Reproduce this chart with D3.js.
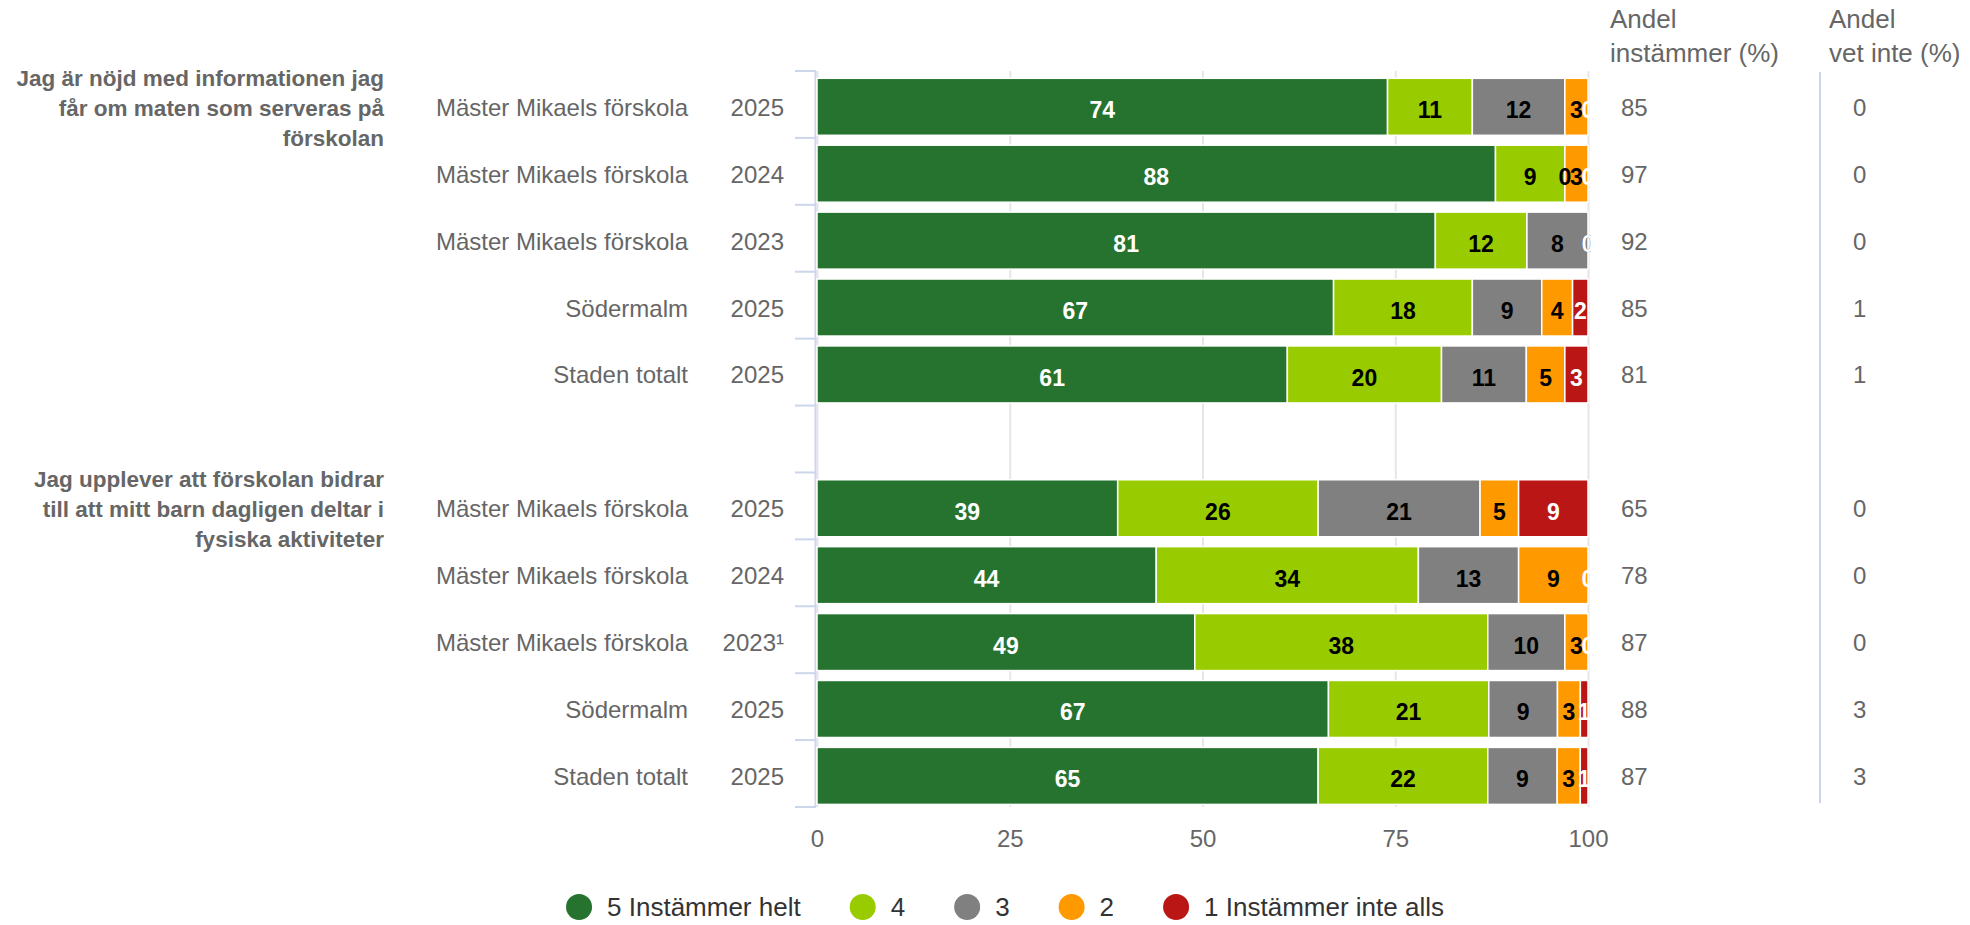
<!DOCTYPE html>
<html>
<head>
<meta charset="utf-8">
<script src="https://cdn.jsdelivr.net/npm/d3@7"></script>
<style>
	body { margin: 0; background: #ffffff; }
	svg { display: block; font-family: 'Liberation Sans', Arial, sans-serif; }
</style>
</head>
<body>
<div id="chart"></div>
<script>
// ********** STACKED BAR CHART - ENKÄT FÖRSKOLA **********

// Question texts (already broken into lines as in the original)
const questions = [
	['Jag är nöjd med informationen jag', 'får om maten som serveras på', 'förskolan'],
	['Jag upplever att förskolan bidrar', 'till att mitt barn dagligen deltar i', 'fysiska aktiviteter']
];

// Row labels for each question
const units = ['Mäster Mikaels förskola', 'Mäster Mikaels förskola', 'Mäster Mikaels förskola', 'Södermalm', 'Staden totalt'];
const years = [
	['2025', '2024', '2023', '2025', '2025'],
	['2025', '2024', '2023¹', '2025', '2025']
];

// Series names (legend) - 5 down to 1
const seriesNames = ['5 Instämmer helt', '4', '3', '2', '1 Instämmer inte alls'];

// Series values, question 1 rows then question 2 rows
const series5 = [74, 88, 81, 67, 61, 39, 44, 49, 67, 65];
const series4 = [11, 9, 12, 18, 20, 26, 34, 38, 21, 22];
const series3 = [12, 0, 8, 9, 11, 21, 13, 10, 9, 9];
const series2 = [3, 3, 0, 4, 5, 5, 9, 3, 3, 3];
const series1 = [0, 0, 0, 2, 3, 9, 0, 0, 1, 1];

// Side columns
const andelInstammer = [85, 97, 92, 85, 81, 65, 78, 87, 88, 87];
const andelVetInte = [0, 0, 0, 1, 1, 0, 0, 0, 3, 3];

// X axis ticks
const xTicks = [0, 25, 50, 75, 100];

// Set colour function
const colors = (idx) => {
	const colorRange = ['#267330', '#99cc00', '#808080', '#ff9900', '#bb1616'];
	return colorRange[idx];
}
// Label colour: white on the dark segments, black on the rest
const labelColor = (idx) => (idx === 0 || idx === 4) ? '#ffffff' : '#000000';

const width = 1970;
const height = 925;

// Plot area
const plot = {
	left: 817,
	right: 1588,
	top: 71,
	bottom: 807
};

const textGrey = '#666666';
const axisColor = '#ccd6eb';
const gridColor = '#e6e6e6';

// Build rows (with one empty row between the two questions)
const allSeries = [series5, series4, series3, series2, series1];
let rows = [];
questions.forEach((q, qi) => {
	if (qi > 0) rows.push({ id: 'gap', gap: true });
	units.forEach((u, ui) => {
		const idx = qi * units.length + ui;
		const row = {
			id: `q${qi}-${ui}`,
			question: qi,
			first: ui === 0,
			unit: u,
			year: years[qi][ui],
			instammer: andelInstammer[idx],
			vetInte: andelVetInte[idx]
		};
		allSeries.forEach((s, si) => row[si] = s[idx]);
		rows.push(row);
	});
});
const dataRows = rows.filter(r => !r.gap);

// Scales
const x = d3.scaleLinear()
	.domain([0, 1])
	.range([plot.left, plot.right]);

const y = d3.scaleBand()
	.domain(rows.map(r => r.id))
	.range([plot.top, plot.bottom]);

const barOffset = 7.3;
const barHeight = 57;
const barCenter = (id) => y(id) + barOffset + barHeight / 2;

// Create SVG
const svg = d3.select('#chart')
	.append('svg')
	.attr('width', width)
	.attr('height', height);

svg.append('rect')
	.attr('width', width)
	.attr('height', height)
	.attr('fill', '#ffffff');

// Gridlines
const grid = svg.append('g')
	.attr('class', 'grid')
	.attr('transform', `translate(0, ${plot.bottom})`)
	.call(d3.axisBottom(x)
		.tickValues(xTicks.map(d => d / 100))
		.tickSize(-(plot.bottom - plot.top))
		.tickFormat(''));
grid.select('.domain').remove();
grid.selectAll('line')
	.attr('stroke', gridColor)
	.attr('stroke-width', 2);

// X axis labels
const xAxis = svg.append('g')
	.attr('class', 'x-axis')
	.attr('transform', `translate(0, ${plot.bottom})`)
	.call(d3.axisBottom(x)
		.tickValues(xTicks.map(d => d / 100))
		.tickSize(0)
		.tickPadding(0)
		.tickFormat(d => Math.round(d * 100)));
xAxis.select('.domain').remove();
xAxis.selectAll('text')
	.attr('y', 40)
	.attr('dy', 0)
	.attr('fill', textGrey)
	.attr('font-size', '24px')
	.attr('font-family', "'Liberation Sans', Arial, sans-serif");

// Left axis line with ticks between categories
const yAxis = svg.append('g').attr('class', 'y-axis');
yAxis.append('line')
	.attr('x1', plot.left - 1.5)
	.attr('x2', plot.left - 1.5)
	.attr('y1', plot.top)
	.attr('y2', plot.bottom)
	.attr('stroke', axisColor)
	.attr('stroke-width', 2);
const boundaries = rows.map(r => y(r.id)).concat([plot.bottom]);
yAxis.selectAll('line.tick')
	.data(boundaries)
	.enter()
	.append('line')
	.attr('class', 'tick')
	.attr('x1', plot.left - 22)
	.attr('x2', plot.left - 1)
	.attr('y1', d => d)
	.attr('y2', d => d)
	.attr('stroke', axisColor)
	.attr('stroke-width', 2);

// Stack data (normalised to 100 %)
const stack = d3.stack()
	.keys([0, 1, 2, 3, 4])
	.offset(d3.stackOffsetExpand);
const stacked = stack(dataRows);

// Bars
const barsGroup = svg.append('g').attr('class', 'bars');
barsGroup.selectAll('g.series')
	.data(stacked)
	.enter()
	.append('g')
	.attr('class', 'series')
	.attr('fill', (d, i) => colors(i))
	.selectAll('rect')
	.data(d => d)
	.enter()
	.append('rect')
	.attr('x', d => x(d[0]))
	.attr('y', d => y(d.data.id) + barOffset)
	.attr('width', d => Math.max(0, x(d[1]) - x(d[0])))
	.attr('height', barHeight)
	.attr('stroke', '#ffffff')
	.attr('stroke-width', 1.5);

// Data labels (clipped to plot area)
svg.append('clipPath')
	.attr('id', 'plot-clip')
	.append('rect')
	.attr('x', plot.left)
	.attr('y', 0)
	.attr('width', plot.right - plot.left + 3)
	.attr('height', height);

const labelsGroup = svg.append('g')
	.attr('class', 'labels')
	.attr('clip-path', 'url(#plot-clip)');
stacked.forEach((s, si) => {
	labelsGroup.selectAll(`text.label-${si}`)
		.data(s)
		.enter()
		.append('text')
		.attr('class', `label-${si}`)
		.attr('x', d => (x(d[0]) + x(d[1])) / 2)
		.attr('y', d => barCenter(d.data.id))
		.attr('dy', '0.5em')
		.attr('text-anchor', 'middle')
		.attr('font-size', '23px')
		.attr('font-weight', 'bold')
		.attr('fill', labelColor(si))
		.text(d => d.data[si]);
});

// Category labels (unit + year)
const catGroup = svg.append('g').attr('class', 'categories');
catGroup.selectAll('text.unit')
	.data(dataRows)
	.enter()
	.append('text')
	.attr('class', 'unit')
	.attr('x', 688)
	.attr('y', d => barCenter(d.id) + 9)
	.attr('text-anchor', 'end')
	.attr('font-size', '24px')
	.attr('fill', textGrey)
	.text(d => d.unit);

catGroup.selectAll('text.year')
	.data(dataRows)
	.enter()
	.append('text')
	.attr('class', 'year')
	.attr('x', 784)
	.attr('y', d => barCenter(d.id) + 9)
	.attr('text-anchor', 'end')
	.attr('font-size', '24px')
	.attr('fill', textGrey)
	.text(d => d.year);

// Question labels (bold, right aligned, middle line on first row)
const qGroup = svg.append('g').attr('class', 'questions');
dataRows.filter(r => r.first).forEach(r => {
	const text = qGroup.append('text')
		.attr('text-anchor', 'end')
		.attr('font-size', '22.5px')
		.attr('font-weight', 'bold')
		.attr('fill', textGrey);
	questions[r.question].forEach((line, li) => {
		text.append('tspan')
			.attr('x', 384)
			.attr('y', barCenter(r.id) + 9 + (li - 1) * 30)
			.text(line);
	});
});

// Side columns
const side = svg.append('g').attr('class', 'side-columns');
const headers = [
	{ x: 1610, lines: ['Andel', 'instämmer (%)'] },
	{ x: 1829, lines: ['Andel', 'vet inte (%)'] }
];
headers.forEach(h => {
	const t = side.append('text')
		.attr('font-size', '26px')
		.attr('fill', textGrey);
	h.lines.forEach((line, li) => {
		t.append('tspan')
			.attr('x', h.x)
			.attr('y', 28 + li * 34)
			.text(line);
	});
});

side.append('line')
	.attr('x1', 1820)
	.attr('x2', 1820)
	.attr('y1', 72)
	.attr('y2', 803)
	.attr('stroke', axisColor)
	.attr('stroke-width', 2);

side.selectAll('text.instammer')
	.data(dataRows)
	.enter()
	.append('text')
	.attr('class', 'instammer')
	.attr('x', 1621)
	.attr('y', d => barCenter(d.id) + 9)
	.attr('font-size', '24px')
	.attr('fill', textGrey)
	.text(d => d.instammer);

side.selectAll('text.vetinte')
	.data(dataRows)
	.enter()
	.append('text')
	.attr('class', 'vetinte')
	.attr('x', 1853)
	.attr('y', d => barCenter(d.id) + 9)
	.attr('font-size', '24px')
	.attr('fill', textGrey)
	.text(d => d.vetInte);

// Legend
const legend = svg.append('g').attr('class', 'legend');
const legendY = 907;
const radius = 13;
let cursor = 0;
seriesNames.forEach((name, i) => {
	const item = legend.append('g');
	item.append('circle')
		.attr('cx', cursor + radius)
		.attr('cy', legendY)
		.attr('r', radius)
		.attr('fill', colors(i));
	const t = item.append('text')
		.attr('x', cursor + 2 * radius + 15)
		.attr('y', legendY + 9)
		.attr('font-size', '26px')
		.attr('fill', '#333333')
		.text(name);
	cursor += 2 * radius + 15 + t.node().getComputedTextLength() + 49;
});
const legendWidth = cursor - 49;
legend.attr('transform', `translate(${1005 - legendWidth / 2}, 0)`);
</script>
</body>
</html>
